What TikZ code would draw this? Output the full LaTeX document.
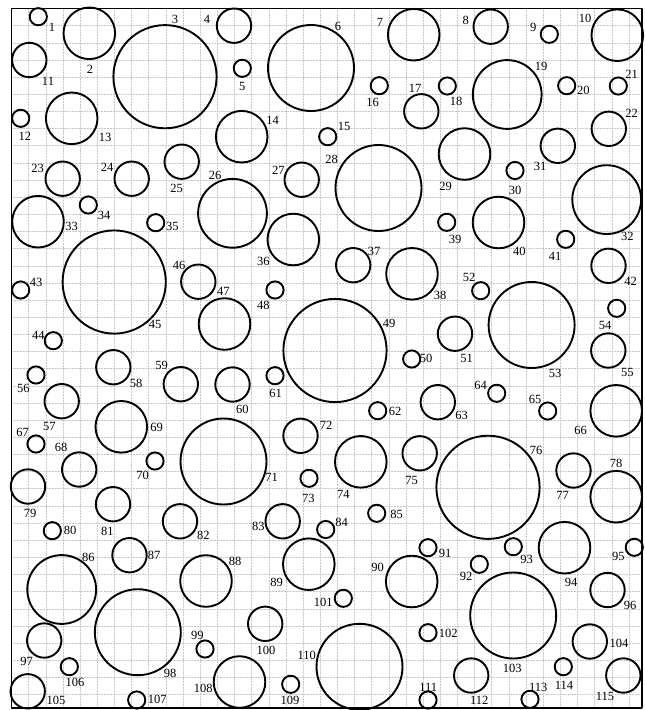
\documentclass[tikz,border=0pt]{standalone}
\usepackage{fontspec}
\setmainfont{Liberation Serif}
\tikzset{
  ring/.style={line width=1.9pt, black},
  gridline/.style={gray!45, line width=0.45pt, dash pattern=on 1.6pt off 1.3pt},
  num/.style={inner sep=0pt, font=\fontsize{12.5}{14}\selectfont}
}
\begin{document}
\begin{tikzpicture}[x=1pt, y=-1pt, line join=round, line cap=round]
  \useasboundingbox (0,0) rectangle (645,710);

  % Khung va luoi o vuong
  \coordinate (TL) at (11.5,8.5);
  \coordinate (BR) at (642,708);
  \foreach \i in {1,...,36} {
    \draw[gridline] ({11.5+17.15*\i},8.5) -- ({11.5+17.15*\i},708);
  }
  \foreach \j in {1,...,40} {
    \draw[gridline] (11.5,{8.5+17.15*\j}) -- (642,{8.5+17.15*\j});
  }
  \draw[line width=1.4pt] (TL) rectangle (BR);

  % Cac hinh tron: so / tam x / tam y / ban kinh (don vi 8.6) / vi tri nhan
  \foreach \n/\x/\y/\k/\lx/\ly in {
    1/38.3/16.7/1/52/27, 2/89.3/33.3/3/90/69, 3/165/76.7/6/175/19,
    4/234/25.7/2/207/19, 5/242.3/68.3/1/242.3/86, 6/311/68/5/338/26.7,
    7/413.7/34.7/3/380/22, 8/490.7/26.7/2/465.7/20, 9/549.3/34.3/1/533.3/27.7,
    10/617.3/35.2/3/585/18.3, 11/29.3/60/2/48/81, 12/20.7/118.3/1/25/136,
    13/71.7/118.3/3/105/137, 14/241.7/136.7/3/272.7/120.7, 15/327.7/136.7/1/344/126.7,
    16/379.3/85.7/1/372.7/102, 17/421.3/111.3/2/415/88, 18/447.3/86/1/456/101.7,
    19/507.2/94.5/4/541/66, 20/566.7/85.7/1/583.3/90.7, 21/618.3/86/1/631.7/74,
    22/608.8/128.8/2/631.7/113.3, 23/62.7/178.7/2/37.7/168, 24/131.7/178.7/2/107/167,
    25/181.7/161.7/2/176.7/188, 26/232.5/213.3/4/215/175, 27/301.7/179.7/2/278.3/170.7,
    28/378.5/188/5/331.7/159.3, 29/464.5/154/3/445.7/186, 30/515/170.5/1/515/190,
    31/557.8/145.8/2/540/166.7, 32/606.7/199.6/4/627.3/236.7, 33/38/221.7/3/71.7/226.7,
    34/88.3/205/1/104/215.7, 35/155.7/222.7/1/172.3/226.7, 36/293.3/239.5/3/263.3/261,
    37/353.2/265.2/2/374/251, 38/412/273.8/3/440/295, 39/446.7/222.3/1/455/239,
    40/498.5/222.5/3/519.3/251, 41/565.7/239.3/1/555/256, 42/608.5/265.8/2/630.7/281,
    43/20.7/290/1/36/282.3, 44/53.3/340.7/1/38.3/335, 45/114.2/282/6/155/324,
    46/198.3/281.7/2/179/265.7, 47/224.5/324/3/223.3/291.7, 48/275/290/1/263.3/305,
    49/335/350.5/6/389/323.3, 50/411.7/359/1/426/358.3, 51/455/333.7/2/466.7/358.3,
    52/480.7/290.7/1/469/277.3, 53/531.6/325/5/555/373.3, 54/616.7/308.3/1/605/325,
    55/608.3/350.5/2/627.3/372.7, 56/36/375/1/23.3/388.3, 57/61.7/401.2/2/49.3/426,
    58/113.3/367.2/2/136/383.3, 59/180.8/384.2/2/161.7/365.7, 60/232.5/384.5/2/242.3/409,
    61/275/375.7/1/275.7/393.3, 62/377.7/410.7/1/395/411, 63/437.8/402.2/2/461.7/415.7,
    64/496.7/393.3/1/480.7/385.7, 65/547.7/411/1/535/399, 66/616.2/410.8/3/580.7/430,
    67/36/444/1/22.7/432.3, 68/79.2/469.5/2/61/447.7, 69/121.3/426.8/3/156.7/427.7,
    70/155/461/1/142.7/475, 71/223.5/461.5/5/271.7/477.3, 72/300.5/435.8/2/326/425.7,
    73/309/478.3/1/308.3/498.3, 74/360.8/461.8/3/343.3/494, 75/419.7/453.3/2/411.7/480,
    76/488/487.3/6/536/450, 77/573.5/470.5/2/562.7/495.7, 78/616.2/496.7/3/616/463.3,
    79/28/486.5/2/30/513.3, 80/52.3/530.7/1/70/530, 81/113/504.2/2/107.3/531.7,
    82/180/521.3/2/203.3/535, 83/282.7/521.3/2/258.3/526.7, 84/325.7/529.5/1/341.7/522.3,
    85/376.7/513.3/1/396.7/514, 86/61.7/589.5/4/88.3/557.3, 87/129.5/555.2/2/154/555,
    88/206/581/3/235/561, 89/308.8/564.2/3/276.7/582.3, 90/411.7/581.5/3/377.7/567.7,
    91/428/547.7/1/445/553.3, 92/479.3/564.3/1/466/576.7, 93/513.3/546.7/1/526.7/559.3,
    94/564.5/547.7/3/571/582.3, 95/634.3/547.3/1/618.3/556.7, 96/607.5/590/2/630/605,
    97/44.2/640.5/2/26.7/661.7, 98/137.8/632.2/5/170/673.3, 99/205/649/1/197.3/635,
    100/265.2/623.8/2/266/650.7, 101/343.3/598.3/1/323.3/602.3, 102/428/632.7/1/448.3/633.3,
    103/513.2/615.5/5/512.3/668.3, 104/589.8/641.5/2/619/643.3, 105/27.7/691.3/2/56/700.7,
    106/69.3/666.7/1/75/682.7, 107/136.7/700/1/157.3/699, 108/239.5/682/3/203.3/688.3,
    109/290.7/684.3/1/290/700.7, 110/359.5/666.8/5/306.7/655, 111/428/700/1/428.3/687.3,
    112/471.2/675.5/2/479.3/700.7, 113/530/699.3/1/538.3/687.3, 114/563.3/666.7/1/564/685,
    115/623.3/675.5/2/605/696.7} {
    \coordinate (c\n) at (\x,\y);
    \draw[ring] (c\n) circle[radius=\k*8.6pt];
    \node[num] (l\n) at (\lx,\ly) {\n};
  }

\end{tikzpicture}
\end{document}
